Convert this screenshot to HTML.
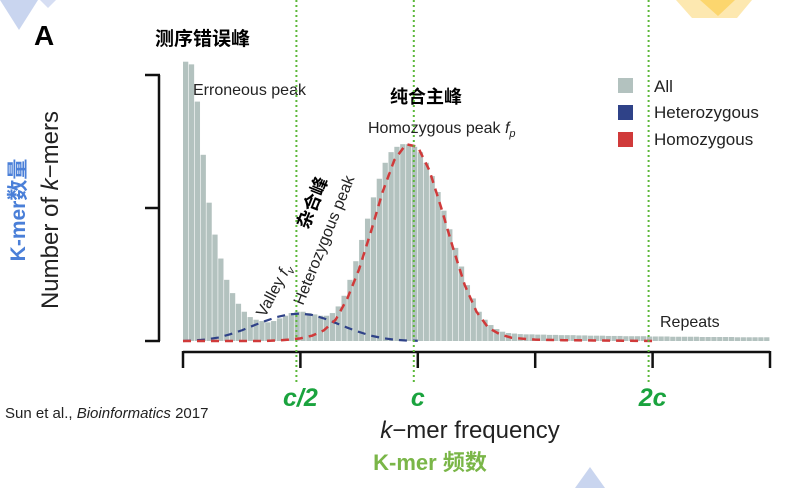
<!DOCTYPE html>
<html><head><meta charset="utf-8"><style>
body{margin:0;background:#fff;width:806px;height:488px;overflow:hidden}
svg{display:block}
text{font-family:"Liberation Sans","Noto Sans CJK SC",sans-serif}
</style></head><body>
<svg id="chart" width="806" height="488" viewBox="0 0 806 488" xmlns="http://www.w3.org/2000/svg">
<g>
<polygon points="0,0 38,0 19,30" fill="#c9d5ef"/><polygon points="40,0 56,0 48,8" fill="#d6def3"/>
<polygon points="676,0 752,0 737,18 692,18" fill="#fde8b0"/><polygon points="700,0 735,0 718,16" fill="#fcd66e"/>
<polygon points="590,467 575,488 605,488" fill="#c9d5ef"/>
</g>
<text x="34" y="45" font-size="28" font-weight="bold">A</text>
<text x="155" y="45" font-size="19" font-weight="bold">测序错误峰</text>
<g id="bars"></g>
<g id="curves"></g>
<g id="axes"></g>
<text x="193" y="95" font-size="16" fill="#222">Erroneous peak</text>
<text x="390" y="103" font-size="18" font-weight="bold">纯合主峰</text>
<text x="368" y="133" font-size="16" fill="#222">Homozygous peak <tspan font-style="italic">f</tspan><tspan font-size="11" dy="4" font-style="italic">p</tspan></text>
<text transform="translate(265,318) rotate(-62)" font-size="16" fill="#222">Valley <tspan font-style="italic">f</tspan><tspan font-size="11" dy="4" font-style="italic">v</tspan></text>
<text transform="translate(303,306) rotate(-68)" font-size="16" fill="#222">Heterozygous peak</text>
<text transform="translate(308,230) rotate(-68)" font-size="18" font-weight="bold">杂合峰</text>
<text x="660" y="327" font-size="16" fill="#222">Repeats</text>
<g>
<rect x="618" y="78" width="15" height="15" fill="#b3c2bf"/>
<text x="654" y="92" font-size="17" fill="#222">All</text>
<rect x="618" y="105" width="15" height="15" fill="#2f4288"/>
<text x="654" y="118" font-size="17" fill="#222">Heterozygous</text>
<rect x="618" y="132" width="15" height="15" fill="#d03a3a"/>
<text x="654" y="145" font-size="17" fill="#222">Homozygous</text>
</g>
<g id="vlines"></g>
<text x="5" y="418" font-size="15" fill="#222">Sun et al., <tspan font-style="italic">Bioinformatics</tspan> 2017</text>
<text x="470" y="438" font-size="24" text-anchor="middle" fill="#222"><tspan font-style="italic">k</tspan>−mer frequency</text>
<text x="430" y="470" font-size="22" font-weight="bold" text-anchor="middle" fill="#7ab648">K-mer 频数</text>
<text transform="translate(58,210) rotate(-90)" font-size="24" text-anchor="middle" fill="#222">Number of <tspan font-style="italic">k</tspan>−mers</text>
<text transform="translate(25,210) rotate(-90)" font-size="21" font-weight="bold" text-anchor="middle" fill="#4a7fd8">K-mer数量</text>
</svg>
<script>
const allCounts=[105,104,90,70,52,40,31,23,18,14,11,9,8,7.5,7,7.5,8.5,9.5,10.5,11,11,10.5,10,9.5,9.5,10.5,13,17,23,30,38,46,54,61,67,71,73,74,74,73,71,67,62,56,49,42,35,28,21,16,11,8,6,4.5,3.5,3,2.8,2.6,2.5,2.5,2.4,2.4,2.3,2.3,2.2,2.2,2.2,2.1,2.1,2,2,2,1.9,1.9,1.9,1.8,1.8,1.8,1.8,1.7,1.7,1.7,1.7,1.6,1.6,1.6,1.6,1.6,1.5,1.5,1.5,1.5,1.5,1.5,1.4,1.4,1.4,1.4,1.4,1.4];
const curveX=[0,2,4,6,8,10,12,14,16,18,20,22,24,26,28,30,32,34,36,38,40,42,44,46,48,50,52,54,56,60,65,70,75,80];
const hetCurve=[0,0.2,0.6,1.3,2.5,4,5.8,7.5,9,10,10.3,9.8,8.5,6.8,5,3.4,2,1.1,0.5,0.2,0.1];
const homCurve=[0,0,0,0,0,0,0,0,0.2,0.5,1,2,4,8,16,27,41,56,68,74,73,64,50,35,21,11,5,2.5,1.2,0.5,0.3,0.2,0.1,0];
const xTicks=[0,20,40,60,80,100];
const yTicks=[0,50,100];
const refLines=[{v:20,l:"c/2"},{v:40,l:"c"},{v:80,l:"2c"}];
const NS="http://www.w3.org/2000/svg";
const X0=183,X1=770,Y0=341,Y1=75;
function sx(v){return X0+(X1-X0)*v/100;}
function sy(v){return Y0-(Y0-Y1)*v/100;}
function mk(t,a,p){const e=document.createElementNS(NS,t);for(const k in a)e.setAttribute(k,a[k]);p.appendChild(e);return e;}
const bars=document.getElementById('bars');
allCounts.forEach((c,i)=>{
 const top=Math.max(sy(c),60);
 const r=mk('rect',{x:sx(i),y:top,width:sx(i+1)-sx(i)-0.6,height:Y0-top,fill:'#b3c2bf'},bars);
 
 
});
const curves=document.getElementById('curves');
function path(vals){return vals.map((v,i)=>(i?'L':'M')+sx(curveX[i])+','+sy(v)).join(' ');}
const hp=mk('path',{d:path(hetCurve),fill:'none',stroke:'#2f4288','stroke-width':2.2,'stroke-dasharray':'8,6'},curves);


const mp=mk('path',{d:path(homCurve),fill:'none',stroke:'#d03a3a','stroke-width':2.5,'stroke-dasharray':'8,6'},curves);


const axes=document.getElementById('axes');
const xa=mk('path',{d:'M'+sx(0)+',352 H'+sx(100),stroke:'#111','stroke-width':2.5,fill:'none'},axes);


xTicks.forEach(t=>{
 const l=mk('line',{x1:sx(t),x2:sx(t),y1:351,y2:368,stroke:'#111','stroke-width':2.5},axes);
 
 
});
const ya=mk('path',{d:'M159,'+sy(0)+' V'+sy(100),stroke:'#111','stroke-width':2.5,fill:'none'},axes);


yTicks.forEach(t=>{
 const l=mk('line',{x1:145,x2:160,y1:sy(t),y2:sy(t),stroke:'#111','stroke-width':2.5},axes);
 
 
});
const vl=document.getElementById('vlines');
refLines.forEach(r=>{
 const x=sx(r.v)-4;
 const l=mk('line',{x1:x,x2:x,y1:0,y2:385,stroke:'#5cb83a','stroke-width':2,'stroke-dasharray':'2,3'},vl);
 
 
 const t=mk('text',{x:x+4,y:406,'font-size':25,'font-weight':'bold','font-style':'italic','text-anchor':'middle',fill:'#1aa33e'},vl);
 t.textContent=r.l;
 
 
});
</script>
</body></html>
